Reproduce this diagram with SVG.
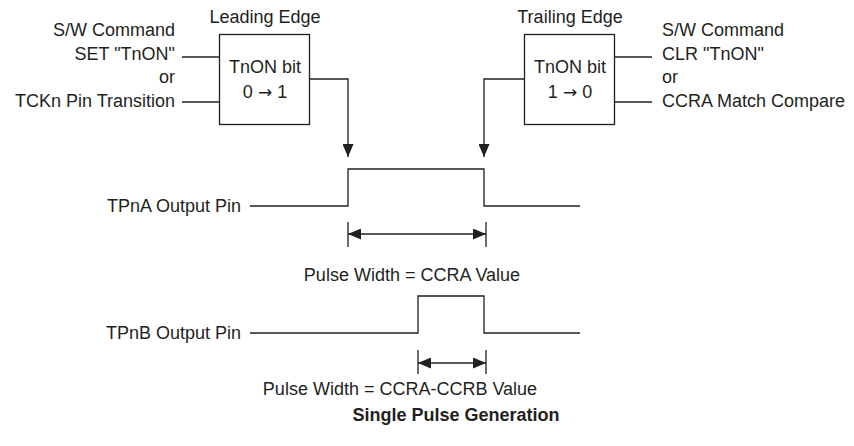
<svg xmlns="http://www.w3.org/2000/svg" width="854" height="446" viewBox="0 0 854 446">
<defs>
<style>
text{font-family:"Liberation Sans",Arial,Helvetica,sans-serif;font-size:18px;fill:#231f20}
.b{font-weight:bold}
.m{text-anchor:middle}
.e{text-anchor:end}
.ar{font-family:"DejaVu Sans",sans-serif;font-size:17px}
.ln{fill:none;stroke:#231f20;stroke-width:1.3}
.box{fill:#fff;stroke:#231f20;stroke-width:1.3}
</style>
<marker id="ah" viewBox="0 0 13 11" refX="13" refY="5.5" markerWidth="13" markerHeight="11" markerUnits="userSpaceOnUse" orient="auto-start-reverse">
<path d="M0,0 L13,5.5 L0,11 Z" fill="#231f20"/>
</marker>
</defs>
<rect width="854" height="446" fill="#fff"/>

<g id="leading-edge">
<text class="m" x="265" y="23">Leading Edge</text>
<rect class="box" x="219.5" y="34.5" width="90" height="90"/>
<text class="m" x="265" y="73">TnON bit</text>
<text class="m" x="265" y="98">0 <tspan class="ar">→</tspan> 1</text>
</g>

<g id="leading-inputs">
<text class="e" x="175" y="36">S/W Command</text>
<text class="e" x="175" y="60">SET "TnON"</text>
<text class="e" x="175" y="83">or</text>
<text class="e" x="175" y="107">TCKn Pin Transition</text>
</g>

<g id="trailing-edge">
<text class="m" x="570" y="23">Trailing Edge</text>
<rect class="box" x="524.5" y="34.5" width="90" height="90"/>
<text class="m" x="570" y="73">TnON bit</text>
<text class="m" x="570" y="98">1 <tspan class="ar">→</tspan> 0</text>
</g>

<g id="trailing-inputs">
<text x="662" y="36">S/W Command</text>
<text x="662" y="60">CLR "TnON"</text>
<text x="662" y="83">or</text>
<text x="662" y="107">CCRA Match Compare</text>
</g>

<g id="tpna">
<text class="e" x="241" y="212">TPnA Output Pin</text>
<path class="ln" d="M250,206 H348 V169 H484 V206 H580"/>
</g>

<g id="tpnb">
<text class="e" x="241" y="339">TPnB Output Pin</text>
<path class="ln" d="M250,333 H418 V296 H484 V333 H580"/>
</g>

<g id="connectors">
<path class="ln" d="M182,57 H219"/>
<path class="ln" d="M182,102 H219"/>
<path class="ln" d="M615,57 H652"/>
<path class="ln" d="M615,102 H652"/>
<path class="ln" d="M309,79 H348 V157" marker-end="url(#ah)"/>
<path class="ln" d="M524,79 H484 V157" marker-end="url(#ah)"/>
<path class="ln" d="M348,222 V247 M486,222 V247"/>
<path class="ln" d="M348,234 H486" marker-start="url(#ah)" marker-end="url(#ah)"/>
<path class="ln" d="M418,350 V374 M486,350 V374"/>
<path class="ln" d="M418,363 H486" marker-start="url(#ah)" marker-end="url(#ah)"/>
</g>

<g id="labels">
<text class="m" x="412" y="281">Pulse Width = CCRA Value</text>
<text class="m" x="400" y="395">Pulse Width = CCRA-CCRB Value</text>
<text class="m b" x="456" y="421">Single Pulse Generation</text>
</g>
</svg>
